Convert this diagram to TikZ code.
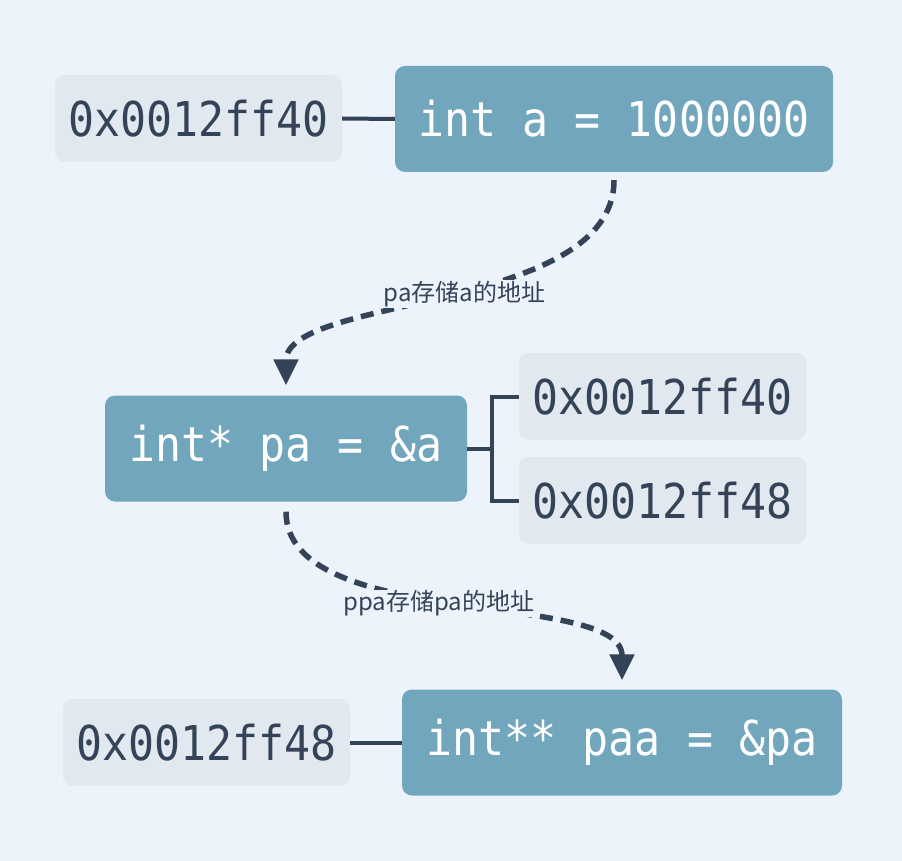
\documentclass[tikz,border=0pt]{standalone}
\usepackage{fontspec}
\usepackage{xcolor}
\usetikzlibrary{arrows.meta,calc}
\newfontfamily\codefont[FakeStretch=0.9]{DejaVu Sans Mono}
\newfontfamily\cnfont{Noto Sans CJK SC}
\definecolor{bgblue}{HTML}{EDF3FA}
\definecolor{varteal}{HTML}{71A6BD}
\definecolor{addrgray}{HTML}{E2E8F0}
\definecolor{inkdark}{HTML}{344358}

\begin{document}
\begin{tikzpicture}[x=1pt,y=-1pt,
		var/.style={fill=varteal, text=white, rounded corners=10pt, inner sep=0pt,
				minimum height=106pt, font=\codefont\fontsize{48}{52}\selectfont},
		addr/.style={fill=addrgray, text=inkdark, rounded corners=10pt, inner sep=0pt,
				minimum width=287pt, minimum height=87pt, font=\codefont\fontsize{48}{52}\selectfont},
		link/.style={draw=inkdark, line width=4pt},
		points/.style={draw=inkdark, line width=5.5pt, dash pattern=on 13pt off 8pt,
				-{Triangle[length=26pt,width=24pt]}},
		note/.style={fill=bgblue, text=inkdark, inner sep=1pt, font=\cnfont\fontsize{24}{28}\selectfont}]
	% background and page size
	\fill[bgblue] (0,0) rectangle (902,861);

	%--- variable a ---
	\node[var, minimum width=438pt] (a) at (614,119) {int a = 1000000};
	\node[addr] (addr1) at (198.5,118.5) {0x0012ff40};
	\draw[link] (addr1.east) -- (a.west);

	%--- pointer pa ---
	\node[var, minimum width=362pt] (pa) at (286,448.5) {int* pa = \&a};
	\node[addr] (addr2) at (662.5,396.5) {0x0012ff40};
	\node[addr] (addr3) at (662.5,500.5) {0x0012ff48};
	\coordinate (fork) at (492,448.5);
	\draw[link] (pa.east) -- (fork);
	\draw[link] (addr2.west) -| (fork) |- (addr3.west);

	%--- pointer to pointer paa ---
	\node[var, minimum width=440pt] (paa) at (622,742.5) {int** paa = \&pa};
	\node[addr] (addr4) at (206.5,742.5) {0x0012ff48};
	\draw[link] (addr4.east) -- (paa.west);

	%--- dashed arrows ---
	\draw[points, shorten <=8pt, shorten >=10pt] (a.south)
		.. controls ($(a.south)+(0,140)$) and ($(pa.north)+(0,-100)$) .. (pa.north)
		node[note, pos=0.47] {pa存储a的地址};
	\draw[points, shorten <=10pt, shorten >=9pt] (pa.south)
		.. controls ($(pa.south)+(0,130)$) and ($(paa.north)+(0,-100)$) .. (paa.north)
		node[note, pos=0.47] {ppa存储pa的地址};
\end{tikzpicture}
\end{document}
